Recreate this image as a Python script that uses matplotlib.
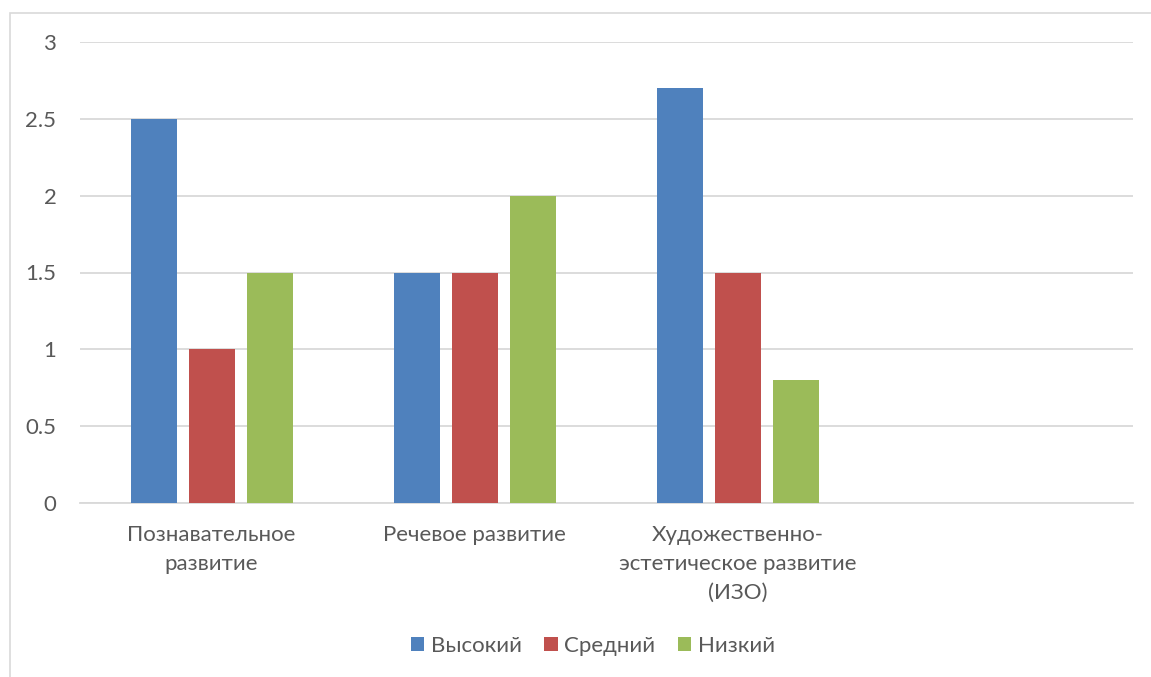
#!/usr/bin/env python3

import matplotlib
matplotlib.use('Agg')
import matplotlib.pyplot as plt
import numpy as np
from matplotlib.patches import Rectangle

# ======================================================================
# Data.
# ======================================================================

categories = [
    'Познавательное\nразвитие',
    'Речевое развитие',
    'Художественно-\nэстетическое развитие\n(ИЗО)',
    '',
]
series_names = ['Высокий', 'Средний', 'Низкий']
high = [2.5, 1.5, 2.7, np.nan]
mid = [1.0, 1.5, 1.5, np.nan]
low = [1.5, 2.0, 0.8, np.nan]
colors = ['#4f81bd', '#c0504d', '#9bbb59']
yticks = [0, 0.5, 1, 1.5, 2, 2.5, 3]
ytick_labels = ['0', '0.5', '1', '1.5', '2', '2.5', '3']

# ======================================================================
# Plot.
# ======================================================================

plt.rcParams['font.family'] = ['Lato', 'DejaVu Sans']
text_col = '#595959'
fs = 16

fig = plt.figure(figsize=(11.51, 6.77), dpi=100)
fig.patches.append(Rectangle(
    (10 / 1151, -0.05), 1.2, 1 - 13 / 677 + 0.05,
    transform=fig.transFigure, fill=False, edgecolor='#d9d9d9', linewidth=1.2,
    ))

ax = fig.add_axes([80 / 1151, 1 - 503 / 677, 1053 / 1151, 461 / 677])

x = np.arange(len(categories))
width = 0.175
step = 0.22
for i, (vals, name) in enumerate(zip([high, mid, low], series_names)):
    ax.bar(x + (i - 1) * step, vals, width, color=colors[i], label=name, zorder=3)

ax.set_xlim(-0.5, len(categories) - 0.5)
ax.set_ylim(0, 3)
ax.set_yticks(yticks)
ax.set_yticklabels(ytick_labels)
ax.set_xticks(x)
ax.set_xticklabels(categories, linespacing=1.55)
ax.tick_params(axis='y', length=0, pad=17, labelsize=fs, labelcolor=text_col)
ax.tick_params(axis='x', length=0, pad=16, labelsize=fs, labelcolor=text_col)
ax.grid(axis='y', color='#d9d9d9', linewidth=1.3, zorder=0)
for s in ['top', 'right', 'left']:
    ax.spines[s].set_visible(False)
ax.spines['bottom'].set_color('#d9d9d9')
ax.spines['bottom'].set_linewidth(1.3)

leg = fig.legend(
    loc='center', bbox_to_anchor=(593 / 1151, 1 - 646 / 677),
    ncol=3, frameon=False, fontsize=fs, handlelength=0.6, handleheight=0.6,
    handletextpad=0.3, columnspacing=1.0,
    )
for t in leg.get_texts():
    t.set_color(text_col)

fig.savefig('out.png', dpi=100)
plt.close()
